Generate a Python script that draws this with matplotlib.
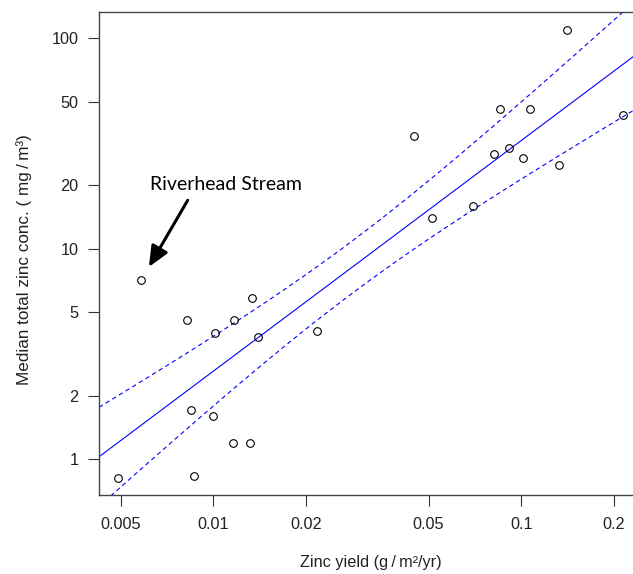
import numpy as np
import matplotlib
matplotlib.use("Agg")
import matplotlib.pyplot as plt
from matplotlib.ticker import FixedLocator, FixedFormatter, NullLocator

plt.rcParams['font.family'] = ['Liberation Sans', 'DejaVu Sans']

# Data
zinc_yield = [0.00491, 0.00582, 0.00821, 0.00846, 0.00868, 0.0100, 0.01015, 0.01165,
              0.01159, 0.01339, 0.01313, 0.0140, 0.02166, 0.0449, 0.0514, 0.0695,
              0.0815, 0.0851, 0.0912, 0.1013, 0.1065, 0.1328, 0.1404, 0.2144]
zinc_conc = [0.818, 7.11, 4.59, 1.71, 0.836, 1.61, 3.99, 4.59,
             1.20, 5.82, 1.20, 3.81, 4.08, 34.2, 14.05, 16.0,
             28.1, 46.3, 30.0, 27.1, 46.3, 25.0, 109.9, 43.2]
x_ticks = [0.005, 0.01, 0.02, 0.05, 0.1, 0.2]
x_tick_labels = ["0.005", "0.01", "0.02", "0.05", "0.1", "0.2"]
y_ticks = [1, 2, 5, 10, 20, 50, 100]
y_tick_labels = ["1", "2", "5", "10", "20", "50", "100"]
annot_label = "Riverhead Stream"
annot_point = (0.00618, 8.2)
annot_tail = (0.00826, 17.0)
annot_text_pos = (0.00623, 20.1)

x = np.log10(np.array(zinc_yield))
y = np.log10(np.array(zinc_conc))
n = len(x)
b1, b0 = np.polyfit(x, y, 1)
resid = y - (b0 + b1 * x)
s = np.sqrt(np.sum(resid ** 2) / (n - 2))
sxx = np.sum((x - x.mean()) ** 2)
t975 = 2.074  # t quantile, df = 22

xlim = (10 ** -2.371, 10 ** -0.5)
ylim = (10 ** -0.1696, 10 ** 2.125)

xg = np.linspace(np.log10(xlim[0]), np.log10(xlim[1]), 300)
fit = b0 + b1 * xg
se = s * np.sqrt(1.0 / n + (xg - x.mean()) ** 2 / sxx)
upper = fit + t975 * se
lower = fit - t975 * se

fig = plt.figure(figsize=(6.33, 5.74), dpi=100)
axw = (675.3 - 99) / 633
axh = (495 - 12) / 574
ax = fig.add_axes([99 / 633, 79 / 574, axw, axh])
ax.set_xscale('log')
ax.set_yscale('log')
ax.set_xlim(*xlim)
ax.set_ylim(*ylim)

ax.plot(10 ** xg, 10 ** fit, color='#0000ff', lw=0.8)
ax.plot(10 ** xg, 10 ** upper, color='#0000ff', lw=0.8, dashes=(4, 3))
ax.plot(10 ** xg, 10 ** lower, color='#0000ff', lw=0.8, dashes=(4, 3))
ax.plot(zinc_yield, zinc_conc, linestyle='none', marker='o', markersize=5.5,
        markerfacecolor='none', markeredgecolor='black', markeredgewidth=0.8)

ax.annotate("", xy=annot_point, xytext=annot_tail,
            arrowprops=dict(arrowstyle='-|>,head_length=1.25,head_width=0.55',
                            color='black', lw=2.2, shrinkA=0, shrinkB=0))
ax.text(annot_text_pos[0], annot_text_pos[1], annot_label, ha='left', va='center',
        fontsize=14, color='black', family=['Lato', 'DejaVu Sans'])

ax.xaxis.set_major_locator(FixedLocator(x_ticks))
ax.xaxis.set_major_formatter(FixedFormatter(x_tick_labels))
ax.xaxis.set_minor_locator(NullLocator())
ax.yaxis.set_major_locator(FixedLocator(y_ticks))
ax.yaxis.set_major_formatter(FixedFormatter(y_tick_labels))
ax.yaxis.set_minor_locator(NullLocator())

ax.tick_params(axis='both', direction='out', length=7.9, width=0.8, color='#333333',
               labelsize=11.7, labelcolor='#222222')
ax.tick_params(axis='x', pad=8)
ax.tick_params(axis='y', pad=7)
for sp in ax.spines.values():
    sp.set_color('#444444')
    sp.set_linewidth(1.0)

ax.set_xlabel("Zinc yield (g\u2009/\u2009m\u00b2/yr)", fontsize=11.7, color='#222222', va='center')
ax.set_ylabel("Median total zinc conc. ( mg\u2009/\u2009m\u00b3)", fontsize=12.3, color='#222222', va='center')
ax.xaxis.set_label_coords((371 - 99) / (675.3 - 99), -(563 - 495) / 483)
ax.yaxis.set_label_coords(-(99 - 24) / (675.3 - 99), (495 - 260) / 483)

fig.savefig("out.png", dpi=100)
